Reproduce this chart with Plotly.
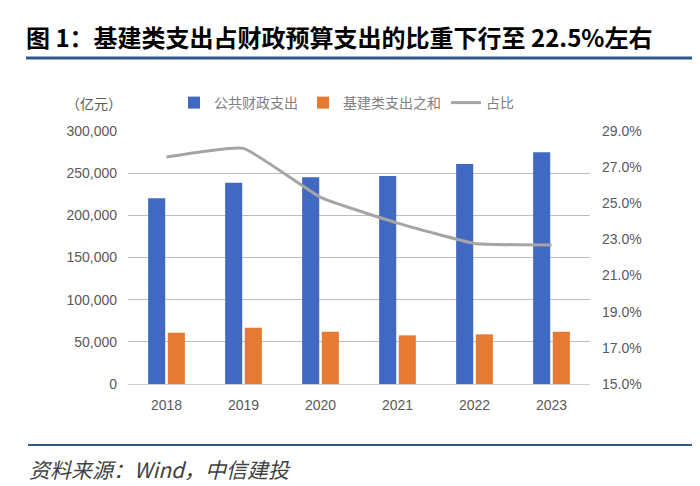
import plotly.graph_objects as go

years = ["2018", "2019", "2020", "2021", "2022", "2023"]
public_exp = [220200, 238700, 245100, 246600, 260900, 274700]
infra_exp = [60800, 66800, 62000, 57700, 58900, 62000]
share_pct = [27.56, 28.04, 25.33, 23.9, 22.78, 22.69]

# page is 700x486; the html body adds an 8px margin, so the figure is drawn 8px in
PAGE_W, PAGE_H, OFF = 700, 486, 8
W, H = PAGE_W - OFF, PAGE_H - OFF
L, R, T, B = 128, 590, 131, 384   # plot area in page pixels

def px(x):
    return (x - L) / (R - L)

def py(y):
    return (B - y) / (B - T)

CJK = "Noto Sans CJK SC"
TICK = "Liberation Sans, Arial, sans-serif"

fig = go.Figure()
fig.add_trace(go.Bar(x=years, y=public_exp, name="公共财政支出",
                     marker=dict(color="#4169C1", line=dict(width=0))))
fig.add_trace(go.Bar(x=years, y=infra_exp, name="基建类支出之和",
                     marker=dict(color="#E67A32", line=dict(width=0))))
fig.add_trace(go.Scatter(x=years, y=share_pct, name="占比", yaxis="y2",
                         mode="lines",
                         line=dict(color="#A5A5A5", width=3, shape="spline", smoothing=0.35)))

fig.update_layout(
    width=W, height=H,
    margin=dict(l=L - OFF, r=PAGE_W - R, t=T - OFF, b=PAGE_H - B, pad=0, autoexpand=False),
    paper_bgcolor="white", plot_bgcolor="white",
    barmode="group", bargap=0.49, bargroupgap=0.13,
    showlegend=True,
    legend=dict(orientation="h", x=px(174), y=py(103), xanchor="left", yanchor="middle",
                font=dict(family=CJK, size=14, color="#7F7F7F"),
                itemwidth=30, tracegroupgap=0, bgcolor="rgba(0,0,0,0)"),
    xaxis=dict(type="category", showgrid=False, showline=True, linecolor="#D0D0D0", linewidth=1,
               ticks="", tickfont=dict(family=TICK, size=14, color="#595959"), ticklabelstandoff=8,
               automargin=False),
    yaxis=dict(range=[0, 300000], dtick=50000, tickformat=",d", showgrid=True,
               gridcolor="#BDBDBD", gridwidth=1, zeroline=False, showline=False, ticks="",
               tickfont=dict(family=TICK, size=14, color="#595959"), ticklabelstandoff=10,
               automargin=False),
    yaxis2=dict(range=[15, 29], tick0=15, dtick=2, tickformat=".1f", ticksuffix="%", overlaying="y",
                side="right", showgrid=False, zeroline=False, showline=False, ticks="",
                tickfont=dict(family=TICK, size=14, color="#595959"), ticklabelstandoff=11,
                automargin=False),
    title=dict(text="<b>图 1：基建类支出占财政预算支出的比重下行至 22.5%左右</b>",
               x=(26 - OFF) / W, y=1 - (39 - OFF) / H, xanchor="left", yanchor="middle",
               xref="container", yref="container",
               font=dict(family=CJK, size=24, color="#000000")),
    annotations=[
        dict(text="（亿元）", x=px(124), y=py(103), xref="paper", yref="paper",
             xanchor="right", yanchor="middle", showarrow=False,
             font=dict(family=CJK, size=14, color="#595959")),
        dict(text="<i>资料来源：Wind，中信建投</i>", x=px(27), y=py(469), xref="paper", yref="paper",
             xanchor="left", yanchor="middle", showarrow=False,
             font=dict(family=CJK, size=21, color="#404040")),
    ],
    shapes=[
        dict(type="line", xref="paper", yref="paper", x0=px(26), x1=px(694), y0=py(58), y1=py(58),
             line=dict(color="#2E5A8A", width=3)),
        dict(type="line", xref="paper", yref="paper", x0=px(28), x1=px(700), y0=py(445), y1=py(445),
             line=dict(color="#2E5A8A", width=2)),
    ],
)

fig.write_html("out.html")
